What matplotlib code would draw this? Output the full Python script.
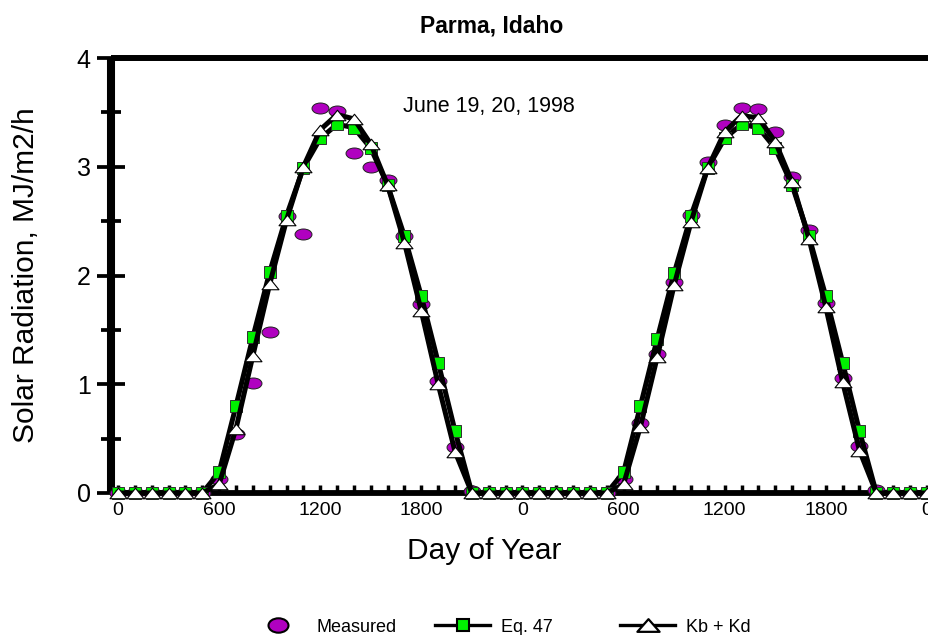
import numpy as np
import matplotlib
matplotlib.use("Agg")
import matplotlib.pyplot as plt
from matplotlib.path import Path
from matplotlib.transforms import Affine2D
from matplotlib.lines import Line2D
from matplotlib.ticker import FixedLocator, MultipleLocator

plt.rcParams['font.family'] = ['Liberation Sans', 'DejaVu Sans']

# ---- data (hourly, two days: June 19, 20, 1998) ----
hours = list(range(0, 49))
measured = [0, 0, 0, 0, 0, 0, 0.13, 0.54, 1.01, 1.48, 2.55, 2.38, 3.54, 3.51, 3.13, 3.00,
            2.88, 2.36, 1.74, 1.03, 0.42, 0.02, 0, 0,
            0, 0, 0, 0, 0, 0, 0.13, 0.64, 1.28, 1.94, 2.56, 3.04, 3.38, 3.54, 3.53, 3.32,
            2.91, 2.42, 1.75, 1.06, 0.43, 0.03, 0, 0, 0]
eq47 = [0, 0, 0, 0, 0, 0, 0.19, 0.80, 1.43, 2.03, 2.55, 2.99, 3.26, 3.39, 3.36, 3.17,
        2.83, 2.36, 1.81, 1.20, 0.57, 0, 0, 0,
        0, 0, 0, 0, 0, 0, 0.19, 0.80, 1.42, 2.02, 2.55, 2.99, 3.26, 3.39, 3.36, 3.17,
        2.83, 2.36, 1.81, 1.20, 0.57, 0, 0, 0, 0]
kbkd = [0, 0, 0, 0, 0, 0, 0.08, 0.59, 1.26, 1.92, 2.51, 3.00, 3.34, 3.48, 3.44, 3.21,
        2.83, 2.30, 1.67, 1.00, 0.38, 0, 0, 0,
        0, 0, 0, 0, 0, 0, 0.08, 0.61, 1.25, 1.91, 2.49, 2.99, 3.32, 3.47, 3.45, 3.23,
        2.86, 2.34, 1.71, 1.02, 0.39, 0, 0, 0, 0]
xtick_pos = [0, 6, 12, 18, 24, 30, 36, 42, 48]
xtick_labels = ['0', '600', '1200', '1800', '0', '600', '1200', '1800', '0']
series_names = ['Measured', 'Eq. 47', 'Kb + Kd']

purple = '#B000C0'
green = '#00F000'

# custom markers
ellipse = Path.unit_circle().transformed(Affine2D().scale(1.0, 0.65))
tri = Path([(-1, -0.62), (1, -0.62), (0, 0.62), (-1, -0.62)],
           [Path.MOVETO, Path.LINETO, Path.LINETO, Path.CLOSEPOLY])
ellipse_leg = Path.unit_circle().transformed(Affine2D().scale(1.0, 0.72))
tri_leg = Path([(-1, -0.57), (1, -0.57), (0, 0.57), (-1, -0.57)],
               [Path.MOVETO, Path.LINETO, Path.LINETO, Path.CLOSEPOLY])

W, H = 929, 635
fig = plt.figure(figsize=(W / 100, H / 100), dpi=100)
ax = fig.add_axes([111 / W, 1 - 493 / H, 849.6 / W, 435 / H])

ax.plot(hours, measured, linestyle='none', marker=ellipse, markersize=12.2,
        markerfacecolor=purple, markeredgecolor='#202020', markeredgewidth=0.7,
        clip_on=False, zorder=3)
ax.plot(hours, eq47, color='black', lw=3.6, marker='s', markersize=8.2,
        markerfacecolor=green, markeredgecolor='#303030', markeredgewidth=0.7,
        clip_on=False, zorder=4)
ax.plot(hours, kbkd, color='black', lw=3.6, marker=tri, markersize=12.2,
        markerfacecolor='white', markeredgecolor='black', markeredgewidth=0.8,
        clip_on=False, zorder=5)

ax.set_xlim(-0.415, 50)
ax.set_ylim(0, 4)

ax.spines['right'].set_visible(False)
ax.spines['left'].set_linewidth(5.8)
ax.spines['top'].set_linewidth(4.3)
ax.spines['bottom'].set_linewidth(4.2)
for s in ax.spines.values():
    s.set_capstyle('butt')

ax.xaxis.set_major_locator(FixedLocator(xtick_pos))
ax.set_xticklabels(xtick_labels)
ax.xaxis.set_minor_locator(MultipleLocator(1))
ax.tick_params(axis='x', which='both', direction='in', length=6, width=2.5,
               labelsize=14, pad=6.5, top=False)

ax.set_yticks([0, 1, 2, 3, 4])
ax.yaxis.set_minor_locator(MultipleLocator(0.5))
ax.tick_params(axis='y', which='major', direction='inout', length=20, width=2.7,
               labelsize=18, pad=4.5, right=False)
ax.tick_params(axis='y', which='minor', direction='inout', length=14.5, width=2.7,
               right=False)

fig.text(492 / W, 1 - 25.8 / H, 'Parma, Idaho', ha='center', va='center',
         fontsize=16.5, fontweight='bold')
fig.text(484 / W, 1 - 551.4 / H, 'Day of Year', ha='center', va='center', fontsize=21.5)
fig.text(25.7 / W, 1 - 275.5 / H, 'Solar Radiation, MJ/m2/h', ha='center', va='center',
         rotation=90, fontsize=21.5)
fig.text(403 / W, 1 - 111.7 / H, 'June 19, 20, 1998', ha='left', va='baseline',
         fontsize=15.5)

# legend, three entries laid out along the bottom
h_meas = Line2D([], [], linestyle='none', marker=ellipse_leg, markersize=14.4,
                markerfacecolor=purple, markeredgecolor='black', markeredgewidth=1.5)
h_eq = Line2D([], [], color='black', lw=2.4, marker='s', markersize=9.0,
              markerfacecolor=green, markeredgecolor='black', markeredgewidth=1.5)
h_kb = Line2D([], [], color='black', lw=2.4, marker=tri_leg, markersize=16.0,
              markerfacecolor='white', markeredgecolor='black', markeredgewidth=1.6)
for h, name, xl in zip([h_meas, h_eq, h_kb], series_names, [250.5, 435, 620]):
    fig.legend([h], [name], loc='center left', bbox_to_anchor=(xl / W, 1 - 627 / H),
               frameon=False, fontsize=13, handlelength=3.05, handletextpad=0.6,
               borderpad=0, borderaxespad=0, numpoints=1)

fig.savefig('out.png', dpi=100)
